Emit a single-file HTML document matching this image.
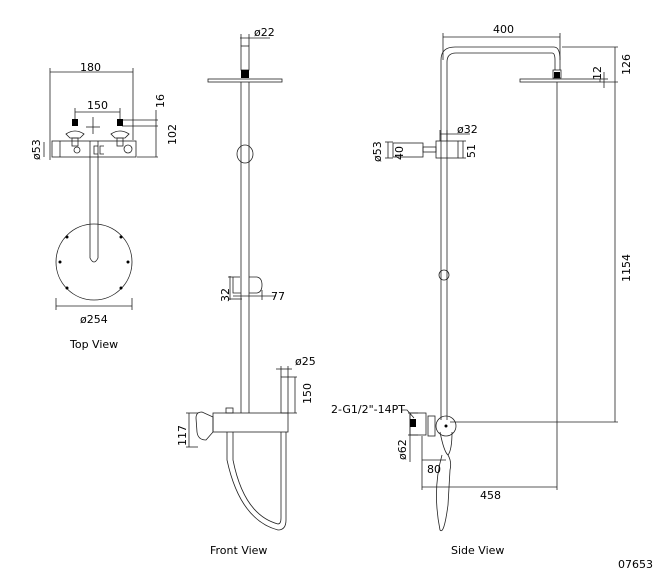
<!DOCTYPE html>
<html><head><style>
body{margin:0;background:#fff}
svg{display:block}
text{font-family:"DejaVu Sans","Liberation Sans",sans-serif;font-size:11px;fill:#000}
</style></head><body>
<svg width="657" height="578" viewBox="0 0 657 578" xmlns="http://www.w3.org/2000/svg">
<g fill="none" stroke="#222" stroke-width="0.8">
<!-- TOP VIEW -->
<line x1="50" y1="72" x2="133" y2="72"/>
<line x1="50" y1="68" x2="50" y2="160"/>
<line x1="133" y1="68" x2="133" y2="140"/>
<line x1="75" y1="112" x2="120" y2="112"/>
<line x1="75" y1="108" x2="75" y2="120"/>
<line x1="120" y1="108" x2="120" y2="120"/>
<line x1="122" y1="120" x2="158" y2="120"/>
<line x1="122" y1="126" x2="158" y2="126"/>
<line x1="137" y1="157" x2="158" y2="157"/>
<line x1="156" y1="110" x2="156" y2="157"/>
<line x1="44" y1="142" x2="44" y2="157"/>
<rect x="52" y="141" width="84" height="16"/>
<line x1="60" y1="141" x2="60" y2="157"/>
<path d="M66 134 Q75 128 84 134 L80 138 L70 138Z"/>
<path d="M111 134 Q120 128 129 134 L125 138 L115 138Z"/>
<rect x="72" y="138" width="6" height="8"/><rect x="117" y="138" width="6" height="8"/>
<circle cx="77" cy="150" r="3"/><circle cx="128" cy="149" r="4"/>
<path d="M98 146 h-4 v8 h4 M104 146 h-4 v8 h4"/>
<line x1="86" y1="127" x2="100" y2="127"/><line x1="93" y1="117" x2="93" y2="134"/>
<path d="M90 141 V258 Q94 266 98 258 V141"/>
<circle cx="94" cy="262" r="38"/>
<line x1="56" y1="306" x2="132" y2="306"/>
<line x1="56" y1="298" x2="56" y2="310"/><line x1="132" y1="298" x2="132" y2="310"/>
<!-- FRONT VIEW -->
<line x1="240" y1="38" x2="270" y2="38"/>
<line x1="241" y1="34" x2="241" y2="46"/><line x1="249" y1="34" x2="249" y2="46"/>
<rect x="241" y="46" width="8" height="24"/>
<rect x="208" y="79" width="74" height="3"/>
<line x1="241" y1="82" x2="241" y2="413"/><line x1="249" y1="82" x2="249" y2="413"/>
<ellipse cx="245" cy="154" rx="8" ry="9"/>
<path d="M233 277 v16 h8 M249 293 h8 Q262 292 262 285 Q262 278 257 277 h-8"/>
<line x1="230" y1="276" x2="230" y2="300"/><line x1="228" y1="277" x2="240" y2="277"/><line x1="228" y1="299" x2="242" y2="299"/>
<line x1="233" y1="296" x2="276" y2="296"/><line x1="262" y1="290" x2="262" y2="300"/>
<rect x="281" y="377" width="7" height="36"/>
<line x1="276" y1="369" x2="292" y2="369"/><line x1="281" y1="366" x2="281" y2="377"/><line x1="288" y1="366" x2="288" y2="377"/>
<line x1="288" y1="377" x2="297" y2="377"/><line x1="288" y1="413" x2="297" y2="413"/><line x1="295" y1="377" x2="295" y2="413"/>
<rect x="213" y="413" width="75" height="19"/>
<path d="M196 418 Q196 412 202 412 L213 417 L213 432 L206 440 Q198 440 197 432Z"/>
<line x1="186" y1="413" x2="198" y2="413"/><line x1="186" y1="447" x2="198" y2="447"/><line x1="189" y1="413" x2="189" y2="447"/>
<rect x="226" y="408" width="7" height="5"/>
<path d="M227 432 V460 Q240 520 278 530 Q286 530 286 520 V432"/>
<path d="M233 432 V460 Q244 515 278 524 Q281 524 281 518 V432"/>
<!-- SIDE VIEW -->
<line x1="443" y1="37" x2="560" y2="37"/>
<line x1="443" y1="33" x2="443" y2="60"/><line x1="560" y1="33" x2="560" y2="60"/>
<path d="M441 420 V60 Q441 47 455 47 H554 Q560 47 560 60 V70"/>
<path d="M447 420 V62 Q447 53 456 53 H552 Q555 53 555 60 V70"/>
<rect x="553" y="70" width="8" height="8"/>
<rect x="520" y="79" width="80" height="3"/>
<line x1="562" y1="47" x2="618" y2="47"/><line x1="600" y1="82" x2="618" y2="82"/>
<line x1="615" y1="47" x2="615" y2="422"/>
<line x1="604" y1="72" x2="604" y2="88"/><line x1="600" y1="79" x2="608" y2="79"/>
<line x1="557" y1="82" x2="557" y2="490"/>
<line x1="450" y1="422" x2="618" y2="422"/>
<rect x="436" y="141" width="22" height="17"/>
<rect x="393" y="143" width="30" height="14"/>
<rect x="423" y="147" width="13" height="5"/>
<line x1="385" y1="142" x2="393" y2="142"/><line x1="385" y1="158" x2="393" y2="158"/><line x1="388" y1="142" x2="388" y2="158"/>
<line x1="440" y1="134" x2="470" y2="134"/><line x1="440" y1="130" x2="440" y2="141"/><line x1="447" y1="130" x2="447" y2="141"/>
<line x1="458" y1="141" x2="466" y2="141"/><line x1="458" y1="158" x2="466" y2="158"/><line x1="463" y1="141" x2="463" y2="158"/>
<circle cx="444" cy="275" r="5"/>
<circle cx="446" cy="426" r="10"/>
<rect x="428" y="416" width="7" height="20"/>
<rect x="410" y="413" width="16" height="22"/>
<path d="M440 432 Q444 452 448 455 Q452 450 452 432"/>
<path d="M442 455 Q432 490 440 530 Q444 535 448 505 L450 470 Q452 462 448 455"/>
<line x1="408" y1="413" x2="418" y2="413"/><line x1="408" y1="435" x2="418" y2="435"/><line x1="410" y1="413" x2="410" y2="462"/>
<line x1="422" y1="436" x2="422" y2="490"/>
<line x1="422" y1="460" x2="446" y2="460"/>
<line x1="422" y1="487" x2="557" y2="487"/>
<path d="M402 410 L407 410 L414 418"/>
</g>
<g fill="#000">
<rect x="72" y="119" width="6" height="7"/><rect x="117" y="119" width="6" height="7"/>
<rect x="241" y="70" width="8" height="8"/>
<rect x="554" y="72" width="6" height="6"/>
<rect x="410" y="419" width="6" height="8"/>
<circle cx="446" cy="426" r="1.5"/>
<circle cx="67" cy="237" r="1.5"/><circle cx="121" cy="237" r="1.5"/><circle cx="60" cy="262" r="1.5"/><circle cx="128" cy="262" r="1.5"/><circle cx="67" cy="288" r="1.5"/><circle cx="121" cy="288" r="1.5"/>
</g>
<text x="80" y="71">180</text>
<text x="87" y="109">150</text>
<text transform="translate(164,108) rotate(-90)">16</text>
<text transform="translate(176,145) rotate(-90)">102</text>
<text transform="translate(40,160) rotate(-90)">ø53</text>
<text x="80" y="323">ø254</text>
<text x="70" y="348">Top View</text>
<text x="254" y="36">ø22</text>
<text transform="translate(229,302) rotate(-90)">32</text>
<text x="271" y="300">77</text>
<text x="295" y="365">ø25</text>
<text transform="translate(311,404) rotate(-90)">150</text>
<text transform="translate(186,446) rotate(-90)">117</text>
<text x="210" y="554">Front View</text>
<text x="493" y="33">400</text>
<text transform="translate(630,75) rotate(-90)">126</text>
<text transform="translate(601,80) rotate(-90)">12</text>
<text transform="translate(630,282) rotate(-90)">1154</text>
<text x="457" y="133">ø32</text>
<text transform="translate(475,158) rotate(-90)">51</text>
<text transform="translate(381,162) rotate(-90)">ø53</text>
<text transform="translate(403,160) rotate(-90)">40</text>
<text x="331" y="413">2-G1/2"-14PT</text>
<text transform="translate(406,460) rotate(-90)">ø62</text>
<text x="427" y="473">80</text>
<text x="480" y="499">458</text>
<text x="451" y="554">Side View</text>
<text x="618" y="568">07653</text>
</svg>
</body></html>
